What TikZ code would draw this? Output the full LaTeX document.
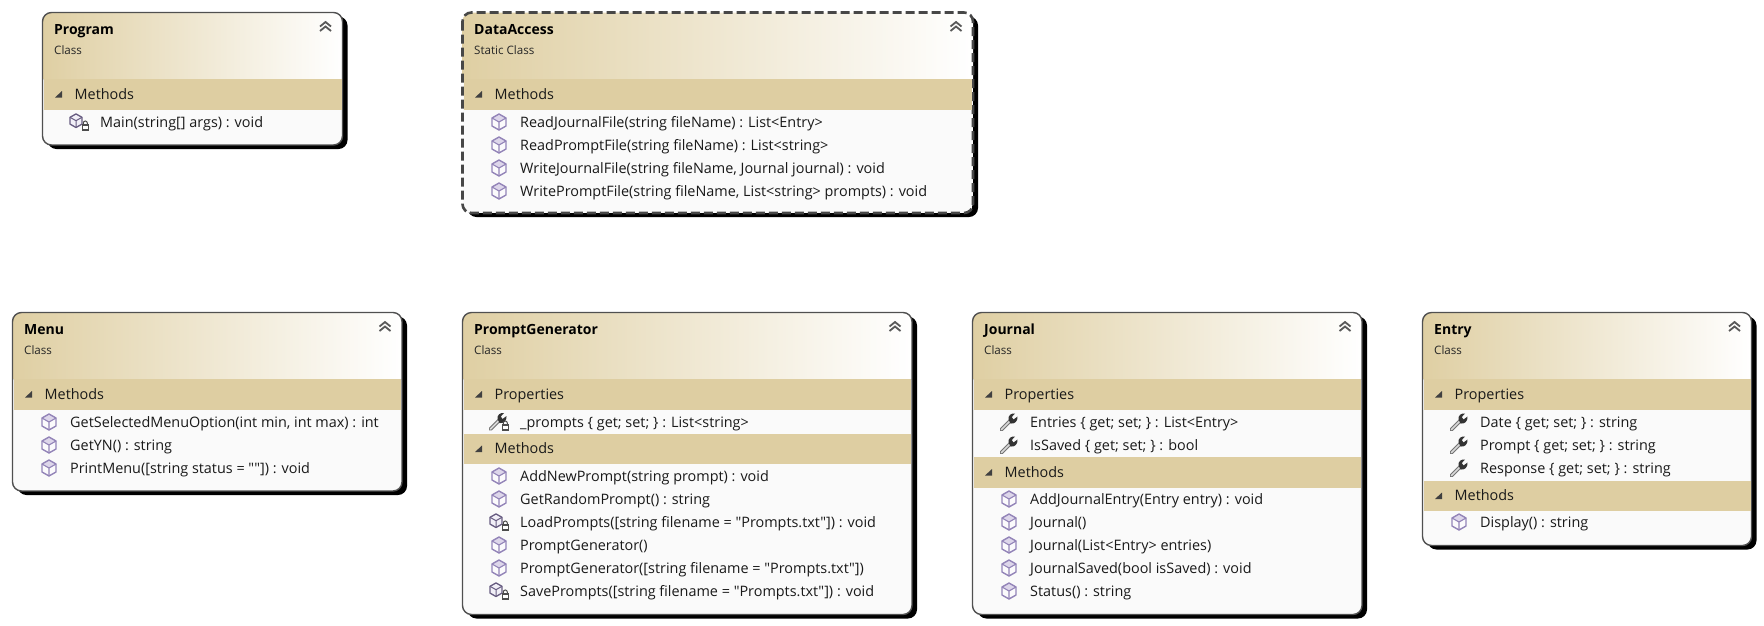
\documentclass[tikz,border=0pt]{standalone}
\usepackage{fontspec}
\setmainfont{Open Sans}[Ligatures=TeXOff]
\definecolor{headtan}{HTML}{DFCFA3}
\definecolor{bandtan}{HTML}{DECEA2}
\definecolor{bodygray}{HTML}{FAFAFA}
\definecolor{framegray}{HTML}{505050}
\definecolor{cubeline}{HTML}{9384B8}
\definecolor{cubetop}{HTML}{DDD6EA}

\tikzset{
   titletext/.style={anchor=base west, inner sep=0pt, font=\fontsize{14}{16}\selectfont\bfseries, text=black},
   kindtext/.style={anchor=base west, inner sep=0pt, font=\fontsize{11.6}{14}\selectfont, text=black!85},
   bandtext/.style={anchor=base west, inner sep=0pt, font=\fontsize{14.4}{16}\selectfont, text=black!90},
   rowtext/.style={anchor=base west, inner sep=0pt, font=\fontsize{14.4}{16}\selectfont, text=black!90},
   cube/.pic={
      \fill[white!96!cubeline] (0,-8) -- (7,-4) -- (7,4) -- (0,8) -- (-7,4) -- (-7,-4) -- cycle;
      \fill[cubetop] (0,-8) -- (7,-4) -- (0,0) -- (-7,-4) -- cycle;
      \draw[cubeline, line width=1.4pt, line join=round] (0,-8) -- (7,-4) -- (7,4) -- (0,8) -- (-7,4) -- (-7,-4) -- cycle;
      \draw[cubeline, line width=1.1pt] (-7,-4) -- (0,0) -- (7,-4) (0,0) -- (0,8);
   },
   lock/.pic={
      \draw[black!70, line width=1pt] (-2,0) -- (-2,-2) arc (180:360:2) -- (2,0);
      \fill[white] (-3.5,-.5) rectangle (3.5,5);
      \draw[black!70, line width=1.2pt] (-3,0) rectangle (3,5);
   },
   wrench/.pic={
      \draw[black!55, line width=3.6pt, line cap=round] (-7.5,7.5) -- (1,-1);
      \draw[white!85!black, line width=1.6pt, line cap=round] (-7.5,7.5) -- (1,-1);
      \fill[black!80] (-.5,-2.5) .. controls (-1,-6.5) and (2,-9) .. (6,-8.5) -- (2.8,-5) -- (4.5,-2.5) -- (8.5,-5.5) .. controls (9,-1) and (5.5,2.5) .. (1.5,1.5) -- cycle;
   },
   privcube/.pic={
      \begin{scope}[shift={(-3,-1.3)}, scale=.85]
         \draw[cubeline!70!black, line width=1.3pt, line join=round, fill=cubetop!40] (0,-8) -- (7,-4) -- (7,4) -- (0,8) -- (-7,4) -- (-7,-4) -- cycle;
         \draw[cubeline!70!black, line width=1pt] (-7,-4) -- (0,0) -- (7,-4) (0,0) -- (0,8);
      \end{scope}
      \pic at (6.3,3) {lock};
   },
   privwrench/.pic={
      \pic at (-1,-.5) {wrench};
      \pic at (6.3,3) {lock};
   },
}

% left, top, right, bottom of a card; #1 goes to the frame
\newcommand{\classcard}[5][]{
   \def\cardleft{#2}\def\cardright{#4}\def\cardtop{#3}
   \fill[black, rounded corners=9pt] (#2+5,#3+4) rectangle (#4+5,#5+4);
   \begin{scope}
      \clip[rounded corners=9pt] (#2,#3) rectangle (#4,#5);
      \fill[bodygray] (#2,#3) rectangle (#4,#5);
      \shade[left color=headtan, right color=white] (#2,#3) rectangle (#4,#3+67);
      \draw[black!12, line width=1pt] (#2,#3+66.5) -- (#4,#3+66.5);
   \end{scope}
   \draw[framegray, line width=1.4pt, rounded corners=9pt, #1] (#2,#3) rectangle (#4,#5);
   \draw[black!65, line width=1.8pt] (#4-22.5,#3+14) -- (#4-17,#3+9.5) -- (#4-11.5,#3+14) (#4-22.5,#3+18.5) -- (#4-17,#3+14) -- (#4-11.5,#3+18.5);
}
% id, title, kind
\newcommand{\classtitle}[3]{
   \node[titletext] (#1title) at (\cardleft+11.5,\cardtop+22) {#2};
   \node[kindtext] (#1kind) at (\cardleft+11.5,\cardtop+42) {#3};
}
% id, top of band, text
\newcommand{\classband}[3]{
   \fill[bandtan] (\cardleft+1,#2) rectangle (\cardright-1,#2+30.5);
   \fill[black!75] (\cardleft+19.5,#2+12) -- (\cardleft+19.5,#2+18.5) -- (\cardleft+12.5,#2+18.5) -- cycle;
   \node[bandtext] (#1) at (\cardleft+32,#2+20) {#3};
}
% id, baseline, icon, text
\newcommand{\classrow}[4]{
   \pic at (\cardleft+36.5,#2-5) {#3};
   \node[rowtext] (#1) at (\cardleft+57.5,#2) {#4};
}

\begin{document}
\begin{tikzpicture}[x=1pt, y=-1pt]
\useasboundingbox (0,0) rectangle (1764,625);

\classcard{42.5}{12.5}{342.5}{145}
\classtitle{program}{Program}{Class}
\classband{programMethods}{79}{Methods}
\classrow{programMain}{127}{privcube}{Main(string[] args) : void}

\classcard[dashed, line width=2.6pt, dash pattern=on 9pt off 4pt, black!72]{462.5}{12.5}{973}{213}
\classtitle{data}{DataAccess}{Static Class}
\classband{dataMethods}{79}{Methods}
\classrow{dataA}{127}{cube}{ReadJournalFile(string fileName) : List<Entry>}
\classrow{dataB}{150}{cube}{ReadPromptFile(string fileName) : List<string>}
\classrow{dataC}{173}{cube}{WriteJournalFile(string fileName, Journal journal) : void}
\classrow{dataD}{196}{cube}{WritePromptFile(string fileName, List<string> prompts) : void}

\classcard{12.5}{312.5}{402}{491}
\classtitle{menu}{Menu}{Class}
\classband{menuMethods}{379}{Methods}
\classrow{menuA}{427}{cube}{GetSelectedMenuOption(int min, int max) : int}
\classrow{menuB}{450}{cube}{GetYN() : string}
\classrow{menuC}{473}{cube}{PrintMenu([string status = ""]) : void}

\classcard{462.5}{312.5}{912}{614.5}
\classtitle{prompt}{PromptGenerator}{Class}
\classband{promptProps}{379}{Properties}
\classrow{promptA}{427}{privwrench}{\_prompts \{ get; set; \} : List<string>}
\classband{promptMethods}{433.5}{Methods}
\classrow{promptB}{481}{cube}{AddNewPrompt(string prompt) : void}
\classrow{promptC}{504}{cube}{GetRandomPrompt() : string}
\classrow{promptD}{527}{privcube}{LoadPrompts([string filename = "Prompts.txt"]) : void}
\classrow{promptE}{550}{cube}{PromptGenerator()}
\classrow{promptF}{573}{cube}{PromptGenerator([string filename = "Prompts.txt"])}
\classrow{promptG}{596}{privcube}{SavePrompts([string filename = "Prompts.txt"]) : void}

\classcard{972.5}{312.5}{1362}{614.5}
\classtitle{journal}{Journal}{Class}
\classband{journalProps}{379}{Properties}
\classrow{journalA}{427}{wrench}{Entries \{ get; set; \} : List<Entry>}
\classrow{journalB}{450}{wrench}{IsSaved \{ get; set; \} : bool}
\classband{journalMethods}{457}{Methods}
\classrow{journalC}{504}{cube}{AddJournalEntry(Entry entry) : void}
\classrow{journalD}{527}{cube}{Journal()}
\classrow{journalE}{550}{cube}{Journal(List<Entry> entries)}
\classrow{journalF}{573}{cube}{JournalSaved(bool isSaved) : void}
\classrow{journalG}{596}{cube}{Status() : string}

\classcard{1422.5}{312.5}{1751.5}{545.5}
\classtitle{entry}{Entry}{Class}
\classband{entryProps}{379}{Properties}
\classrow{entryA}{427}{wrench}{Date \{ get; set; \} : string}
\classrow{entryB}{450}{wrench}{Prompt \{ get; set; \} : string}
\classrow{entryC}{473}{wrench}{Response \{ get; set; \} : string}
\classband{entryMethods}{480.5}{Methods}
\classrow{entryD}{527}{cube}{Display() : string}

\end{tikzpicture}
\end{document}
